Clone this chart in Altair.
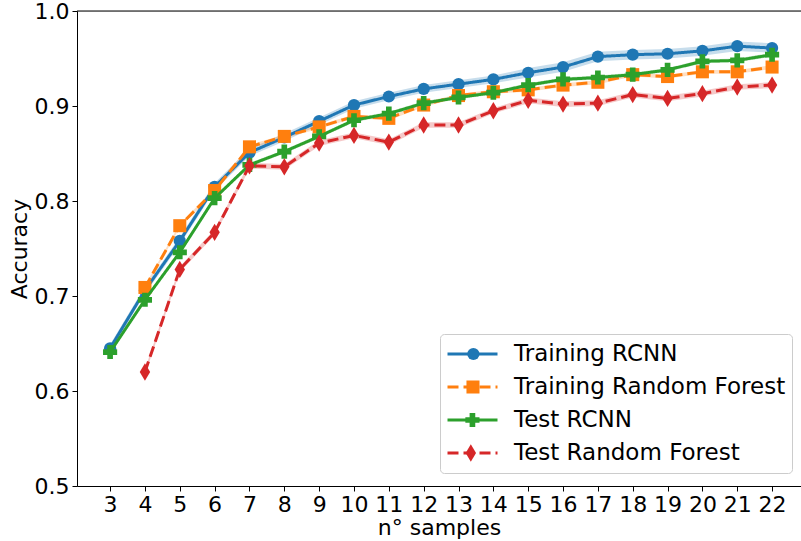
import altair as alt
import pandas as pd

# Number of samples used for training / evaluation
n_samples = list(range(3, 23))

# Mean accuracy per sample count (None = not evaluated)
training_rcnn = [0.645, 0.706, 0.758, 0.815, 0.851, 0.867, 0.884, 0.901, 0.910, 0.918,
                 0.923, 0.928, 0.935, 0.941, 0.952, 0.954, 0.955, 0.958, 0.963, 0.961]
training_rf = [None, 0.709, 0.774, 0.811, 0.857, 0.868, 0.878, 0.889, 0.887, 0.901,
               0.911, 0.915, 0.917, 0.922, 0.925, 0.933, 0.931, 0.936, 0.936, 0.941]
test_rcnn = [0.641, 0.696, 0.746, 0.803, 0.838, 0.852, 0.868, 0.885, 0.892, 0.903,
             0.909, 0.914, 0.922, 0.928, 0.930, 0.933, 0.938, 0.947, 0.948, 0.954]
test_rf = [None, 0.620, 0.728, 0.767, 0.837, 0.836, 0.861, 0.869, 0.862, 0.880,
           0.880, 0.895, 0.906, 0.902, 0.903, 0.912, 0.908, 0.913, 0.920, 0.922]

# Half-width of the confidence band around each mean
training_rcnn_ci = [0.004, 0.004, 0.004, 0.004, 0.004, 0.004, 0.004, 0.004, 0.004, 0.004,
                    0.004, 0.004, 0.005, 0.005, 0.005, 0.005, 0.005, 0.005, 0.005, 0.005]
training_rf_ci = [None, 0.002, 0.002, 0.002, 0.002, 0.002, 0.002, 0.002, 0.002, 0.002,
                  0.002, 0.002, 0.002, 0.002, 0.002, 0.002, 0.002, 0.002, 0.002, 0.002]
test_rcnn_ci = [0.002, 0.002, 0.002, 0.002, 0.002, 0.002, 0.002, 0.002, 0.002, 0.002,
                0.002, 0.002, 0.002, 0.002, 0.002, 0.002, 0.002, 0.002, 0.002, 0.002]
test_rf_ci = [None, 0.003, 0.003, 0.003, 0.003, 0.003, 0.003, 0.003, 0.003, 0.003,
              0.003, 0.003, 0.003, 0.003, 0.003, 0.003, 0.003, 0.003, 0.003, 0.003]

series_names = ["Training RCNN", "Training Random Forest", "Test RCNN", "Test Random Forest"]
series_values = [training_rcnn, training_rf, test_rcnn, test_rf]
series_ci = [training_rcnn_ci, training_rf_ci, test_rcnn_ci, test_rf_ci]

# Separate keys for the marker and band encodings so that each gets its own scale/legend
marker_keys = [f"{s} marker" for s in series_names]
band_keys = [f"{s} band" for s in series_names]

colors = ["#1f77b4", "#ff7f0e", "#2ca02c", "#d62728"]
dashes = [[1, 0], [11, 5], [1, 0], [11, 5]]
shapes = ["circle", "square", "cross", "M0,-1L0.6,0L0,1L-0.6,0Z"]
marker_sizes = [150, 170, 200, 300]

rows = []
for name, mkey, bkey, vals, cis in zip(series_names, marker_keys, band_keys,
                                        series_values, series_ci):
    for x, v, c in zip(n_samples, vals, cis):
        if v is None:
            continue
        rows.append({"n": x, "acc": v, "lo": v - c, "hi": v + c,
                     "series": name, "marker": mkey, "band": bkey})
df = pd.DataFrame(rows)

FONT = "DejaVu Sans"
FS = 22
W, H = 724, 475

x_enc = alt.X("n:Q", scale=alt.Scale(domain=[2.05, 22.83], nice=False, zero=False),
              axis=alt.Axis(values=n_samples, title="n° samples", grid=False,
                            labelFontSize=FS, titleFontSize=FS, titleFontWeight="normal",
                            tickSize=5, labelPadding=3,
                            titleY=48, titleBaseline="alphabetic",
                            domainColor="black", tickColor="black",
                            labelColor="black", titleColor="black"))
y_enc = alt.Y("acc:Q", scale=alt.Scale(domain=[0.5, 1.0], nice=False, zero=False),
              axis=alt.Axis(values=[0.5, 0.6, 0.7, 0.8, 0.9, 1.0], format=".1f",
                            title="Accuracy", grid=False,
                            labelFontSize=FS, titleFontSize=FS, titleFontWeight="normal",
                            tickSize=5, labelPadding=3,
                            titleX=-51, titleBaseline="alphabetic",
                            domainColor="black", tickColor="black",
                            labelColor="black", titleColor="black"))

stroke_scale = alt.Scale(domain=series_names, range=colors)
dash_scale = alt.Scale(domain=series_names, range=dashes)
band_scale = alt.Scale(domain=band_keys, range=colors)

LEG_X, LEG_Y = 363, 323
LEG_FS = 23
LEG_PAD, ROW_H, ROW_GAP = 6, 28, 5
LINE_SYMBOL_W = 50

line_legend = alt.Legend(
    title=None, orient="none", legendX=LEG_X, legendY=LEG_Y,
    symbolType="stroke", symbolSize=LINE_SYMBOL_W ** 2, symbolStrokeWidth=3,
    labelFontSize=LEG_FS, labelFont=FONT, labelColor="black", labelOffset=15,
    labelLimit=500,
    clipHeight=ROW_H, rowPadding=ROW_GAP, padding=LEG_PAD,
    strokeColor="#cccccc", cornerRadius=4,
)

base = alt.Chart(df)

bands = base.mark_area(opacity=0.25).encode(
    x=x_enc, y=alt.Y("lo:Q", scale=alt.Scale(domain=[0.5, 1.0], nice=False, zero=False)),
    y2="hi:Q",
    fill=alt.Fill("band:N", scale=band_scale, legend=None),
    detail="band:N",
)

layers = [bands]
for i, (name, mkey, col, shp, sz) in enumerate(
        zip(series_names, marker_keys, colors, shapes, marker_sizes)):
    sub = base.transform_filter(alt.datum.series == name)
    line = sub.mark_line(strokeWidth=3).encode(
        x=x_enc, y=y_enc,
        stroke=alt.Stroke("series:N", scale=stroke_scale, legend=line_legend),
        strokeDash=alt.StrokeDash("series:N", scale=dash_scale, legend=line_legend),
    )
    # One single-entry legend per marker, laid over the matching line-legend row
    marker_legend = alt.Legend(
        title=None, orient="none",
        legendX=LEG_X + LINE_SYMBOL_W / 2 - sz ** 0.5 / 2 - 3,
        legendY=LEG_Y + i * (ROW_H + ROW_GAP),
        symbolFillColor=col, symbolStrokeWidth=0, symbolSize=sz,
        labelFontSize=LEG_FS, labelExpr="''",
        clipHeight=ROW_H, rowPadding=ROW_GAP, padding=LEG_PAD,
    )
    pts = sub.mark_point(filled=True, opacity=1, strokeWidth=0, color=col, size=sz).encode(
        x=x_enc, y=y_enc,
        shape=alt.Shape("marker:N", scale=alt.Scale(domain=[mkey], range=[shp]),
                        legend=marker_legend),
    )
    layers += [line, pts]

# Top frame line of the plot area
top_frame = alt.Chart(pd.DataFrame({"k": [0]})).mark_rule(color="black", strokeWidth=1).encode(
    x=alt.value(0), x2=alt.value(W), y=alt.value(0)
)
layers.append(top_frame)

chart = alt.layer(*layers).resolve_scale(shape="independent").properties(
    width=W, height=H,
    autosize=alt.AutoSizeParams(type="none"),
    padding={"left": 77, "top": 11, "right": 0, "bottom": 55},
).configure_view(stroke=None).configure(font=FONT, background="white")

chart.save("out.html", embed_options={"renderer": "svg", "actions": False})
